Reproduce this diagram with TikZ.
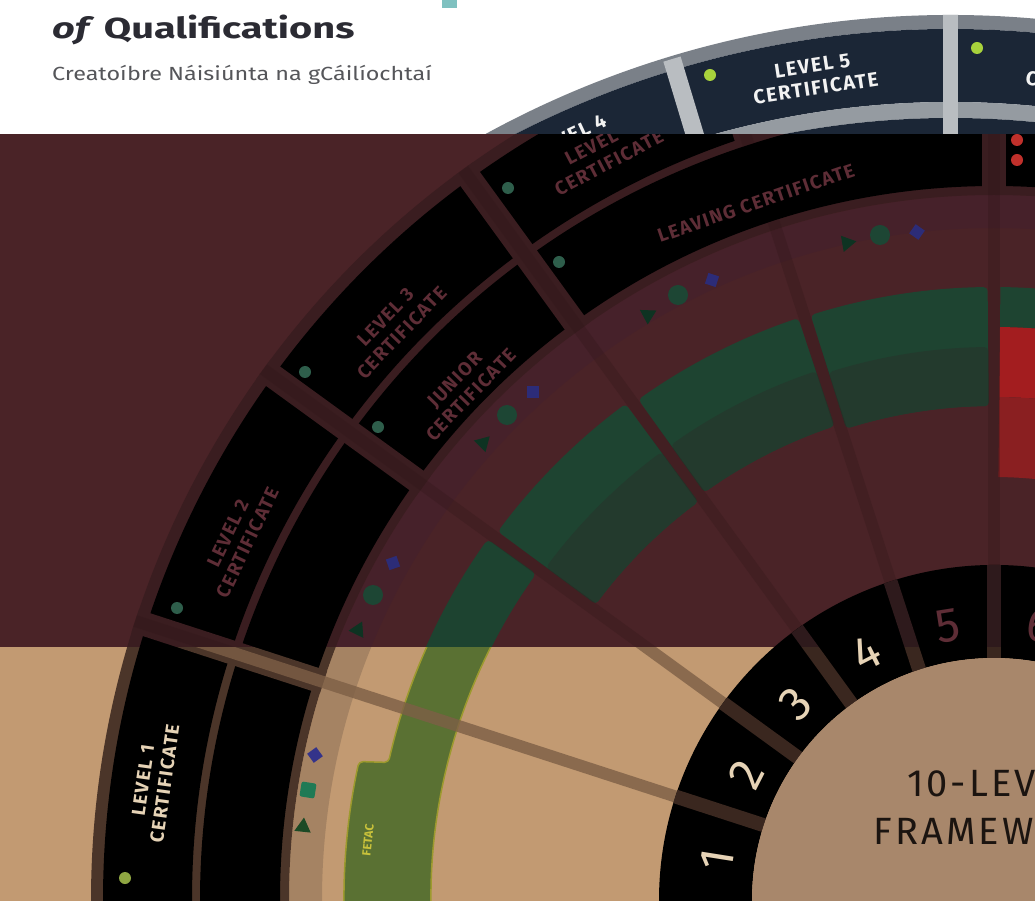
\documentclass[tikz,border=0pt]{standalone}
\usepackage{fontspec}
\setmainfont{Fira Sans}
\newfontfamily\labfont{Fira Sans}[LetterSpace=8]
\newfontfamily\bigfont{Fira Sans}[LetterSpace=8]
\usetikzlibrary{shapes.geometric}
\definecolor{titlec}{HTML}{2B2B33}
\definecolor{subc}{HTML}{55565A}
\definecolor{tealsq}{HTML}{7FC1C0}
\definecolor{navy}{HTML}{1B2636}
\definecolor{rimgray}{HTML}{7A8088}
\definecolor{bandgray}{HTML}{959BA1}
\definecolor{divgray}{HTML}{B9BDC1}
\definecolor{topdot}{HTML}{A8D23C}
\definecolor{toptxt}{HTML}{F2F2F2}
\definecolor{midtxt}{HTML}{5E2D36}
\definecolor{middot}{HTML}{2E5E4B}
\definecolor{reddot}{HTML}{C0302B}
\definecolor{lowtxt}{HTML}{E6D3B6}
\definecolor{lowdot}{HTML}{8FA642}
\definecolor{fettxt}{HTML}{C9C23B}
\definecolor{frametxt}{HTML}{1B1410}
\definecolor{triM}{HTML}{0E3322}
\definecolor{cirM}{HTML}{1D4634}
\definecolor{diaM}{HTML}{2C2C78}
\definecolor{triB}{HTML}{1C4A25}
\definecolor{sqB}{HTML}{1F7A55}
\definecolor{diaB}{HTML}{34338A}
\newcommand\Sec[5][]{\fill[#1] (#2:#4) arc[start angle=#2, end angle=#3, radius=#4] -- (#3:#5) arc[start angle=#3, end angle=#2, radius=#5] -- cycle;}
\newcommand\MainLayer{%
  \fill[bgc] (-5,-5) rectangle (1040,905);
  \begin{scope}[shift={(994,0)}]
    \Sec[trackc]{60}{181}{705}{672}
    \Sec[gA,rounded corners=4pt]{90.6}{107.4}{613}{494}
    \Sec[gB,rounded corners=4pt]{90.6}{107.4}{553}{494}
    \Sec[gA,rounded corners=4pt]{108.6}{125.4}{614}{500}
    \Sec[gB,rounded corners=4pt]{108.6}{125.4}{558}{500}
    \Sec[gA,rounded corners=4pt]{126.6}{143.4}{618}{496}
    \Sec[gB,rounded corners=4pt]{126.6}{143.4}{558}{496}
    \Sec[gA]{60}{89.4}{613}{573}
    \Sec[redA]{60}{89.4}{573}{503}
    \Sec[redB]{60}{89.4}{503}{423}
    \filldraw[fill=fetac, draw=fetacline, line width=1.5pt, rounded corners=4pt]
      (144.6:621) arc[start angle=144.6, end angle=167.2, radius=621]
      -- (167.7:650) arc[start angle=167.7, end angle=181, radius=650]
      -- (181:563) arc[start angle=181, end angle=144.6, radius=563] -- cycle;
    \Sec[framec]{60}{181}{903}{705}
    \Sec[black]{60}{181}{891}{802}
    \Sec[black]{60}{181}{794}{714}
    \foreach \a in {72,90,126,144,162} {\draw[framec, line width=24pt] (\a:705) -- (\a:903);}
    \draw[framec, line width=24pt] (108:797) -- (108:903);
    \foreach \a in {72,90,126,144,162} {\draw[rayc, opacity=\rayop, line width=12pt] (\a:335) -- (\a:903);}
    \draw[rayc, opacity=\rayop, line width=12pt] (108:335) -- (108:714) (108:794) -- (108:903);
    \Sec[black]{60}{181}{335}{242}
    \foreach \a in {72,90,108,126,144,162} {\draw[numdiv, line width=14pt] (\a:242) -- (\a:335);}
    \fill[diskc] (0,0) circle[radius=242];
  \end{scope}}
\tikzset{
  shtri/.style={regular polygon, regular polygon sides=3, inner sep=0pt, minimum size=19pt},
  shcirc/.style={circle, inner sep=0pt, minimum size=20pt},
  shdia/.style={diamond, inner sep=0pt, minimum size=16pt},
  shsq/.style={rectangle, rounded corners=2pt, inner sep=0pt, minimum size=15pt},
  dotn/.style={circle, inner sep=0pt, minimum size=12pt},
  lab/.style={font=\labfont\bfseries\fontsize{19}{22}\selectfont, align=center, inner sep=0pt},
  toplab/.style={font=\labfont\bfseries\fontsize{20}{23}\selectfont, align=center, inner sep=0pt, text=toptxt},
  nums/.style={font=\fontsize{48}{48}\selectfont, inner sep=0pt}
}
\begin{document}
\begin{tikzpicture}[x=1pt,y=1pt]
\useasboundingbox (0,0) rectangle (1035,900);
\clip (0,0) rectangle (1035,900);
\fill[white] (0,0) rectangle (1035,900);
\fill[tealsq] (442,892) rectangle (457,900);
% ---- top layer
\begin{scope}
  \clip (0,765) rectangle (1035,900);
  \begin{scope}[shift={(950,-80)}]
    \Sec[rimgray]{60}{140}{965}{951}
    \Sec[navy]{60}{140}{951}{878}
    \Sec[bandgray]{60}{140}{878}{862}
    \Sec[navy]{60}{140}{862}{760}
    \draw[divgray, line width=15pt] (90:760) -- (90:965);
    \draw[divgray, line width=18pt] (106.8:870) -- (106.8:962);
  \end{scope}
  \node[toplab, rotate=8.6] (t5) at (814,823) {LEVEL 5\\CERTIFICATE};
  \node[toplab, rotate=25] (t4) at (570,764) {LEVEL 4};
  \node[toplab, rotate=-9.5] (t6) at (1088,812) {CERTIFICATE};
\end{scope}
\node[dotn, fill=topdot] (d5t) at (710,825) {};
\node[dotn, fill=topdot] (d6t) at (977,852) {};
% ---- middle layer
\begin{scope}
  \clip (0,253) rectangle (1035,765);
  \definecolor{bgc}{HTML}{4A2327}
  \definecolor{trackc}{HTML}{46212A}
  \definecolor{gA}{HTML}{1E4431}
  \definecolor{gB}{HTML}{233A2D}
  \definecolor{fetac}{HTML}{1D4330}
  \definecolor{fetacline}{HTML}{1D4330}
  \definecolor{redA}{HTML}{A31D1F}
  \definecolor{redB}{HTML}{8A1F21}
  \definecolor{framec}{HTML}{3A1D20}
  \definecolor{rayc}{HTML}{301618}
  \definecolor{numdiv}{HTML}{2E1A1C}
  \definecolor{diskc}{HTML}{4A2327}
  \def\rayop{0.3}
  \MainLayer
  \node[lab, text=midtxt, rotate=27.6] (m4) at (604,747) {LEVEL 4\\CERTIFICATE};
  \node[lab, text=midtxt, rotate=46.2] (m3) at (394,575) {LEVEL 3\\CERTIFICATE};
  \node[lab, text=midtxt, rotate=64.4] (m2) at (238,362) {LEVEL 2\\CERTIFICATE};
  \node[lab, text=midtxt, rotate=46] (jc) at (463,513) {JUNIOR\\CERTIFICATE};
  \node[lab, text=midtxt, rotate=18.9] (lc) at (756,697) {LEAVING CERTIFICATE};
  \node[nums, text=midtxt, rotate=9] (n5) at (948,274) {5};
  \node[nums, text=midtxt, rotate=-9] (n6) at (1040,274) {6};
\end{scope}
% ---- bottom layer
\begin{scope}
  \clip (0,0) rectangle (1035,253);
  \definecolor{bgc}{HTML}{C29A72}
  \definecolor{trackc}{HTML}{A58363}
  \definecolor{gA}{HTML}{5A7133}
  \definecolor{gB}{HTML}{5A7133}
  \definecolor{fetac}{HTML}{5A7133}
  \definecolor{fetacline}{HTML}{9D9A2E}
  \definecolor{redA}{HTML}{A31D1F}
  \definecolor{redB}{HTML}{8A1F21}
  \definecolor{framec}{HTML}{4B3529}
  \definecolor{rayc}{HTML}{7D5F46}
  \definecolor{numdiv}{HTML}{3A271F}
  \definecolor{diskc}{HTML}{A8876B}
  \def\rayop{0.8}
  \MainLayer
  \node[lab, text=lowtxt, rotate=82] (m1) at (154,118) {LEVEL 1\\CERTIFICATE};
  \node[font=\bfseries\fontsize{12}{12}\selectfont, text=fettxt, rotate=84, inner sep=0pt] (fet) at (368,60) {FETAC};
  \node[font=\bigfont\fontsize{38}{48}\selectfont, text=frametxt, align=center, inner sep=0pt] (ten) at (994,92) {10-LEVEL\\FRAMEWORK};
  \node[nums, text=lowtxt, rotate=81] (n1) at (717,40) {1};
  \node[nums, text=lowtxt, rotate=63] (n2) at (746,125) {2};
  \node[nums, text=lowtxt, rotate=45] (n3) at (796,196) {3};
\end{scope}
\node[nums, text=lowtxt, rotate=27] (n4) at (866,247) {4};
% dots
\node[dotn, fill=middot] (d4) at (508,712) {};
\node[dotn, fill=middot] (d3) at (305,528) {};
\node[dotn, fill=middot] (d2) at (177,292) {};
\node[dotn, fill=middot] (dlc) at (559,638) {};
\node[dotn, fill=middot] (djc) at (378,473) {};
\node[dotn, fill=reddot] (r1) at (1017,760) {};
\node[dotn, fill=reddot] (r2) at (1017,740) {};
\node[dotn, fill=lowdot] (d1) at (125,22) {};
% shapes
\node[shtri, fill=triB, rotate=-6] (s1t) at (303,73) {};
\node[shsq, fill=sqB, rotate=81] (s1s) at (308,110) {};
\node[shdia, fill=diaB, rotate=171] (s1d) at (315,145) {};
\node[shtri, fill=triM, rotate=-26] (s2t) at (358,270) {};
\node[shcirc, fill=cirM] (s2c) at (373,305) {};
\node[shdia, fill=diaM, rotate=154] (s2d) at (393,337) {};
\node[shtri, fill=triM, rotate=-45] (s3t) at (483,457) {};
\node[shcirc, fill=cirM] (s3c) at (507,485) {};
\node[shdia, fill=diaM, rotate=135] (s3d) at (533,508) {};
\node[shtri, fill=triM, rotate=-62] (s4t) at (648,585) {};
\node[shcirc, fill=cirM] (s4c) at (678,605) {};
\node[shdia, fill=diaM, rotate=117] (s4d) at (712,620) {};
\node[shtri, fill=triM, rotate=-80] (s5t) at (847,657) {};
\node[shcirc, fill=cirM] (s5c) at (880,665) {};
\node[shdia, fill=diaM, rotate=100] (s5d) at (917,668) {};
% title
\node[anchor=base west, inner sep=0pt, text=titlec] (title) at (52,861)
  {\scalebox{1.37}[1]{\fontsize{29}{29}\selectfont\bfseries\textit{of} Qualifications}};
\node[anchor=base west, inner sep=0pt, text=subc] (subtitle) at (52,819)
  {\scalebox{1.23}[1]{\fontsize{19}{19}\selectfont Creatoíbre Náisiúnta na gCáilíochtaí}};
\end{tikzpicture}
\end{document}
